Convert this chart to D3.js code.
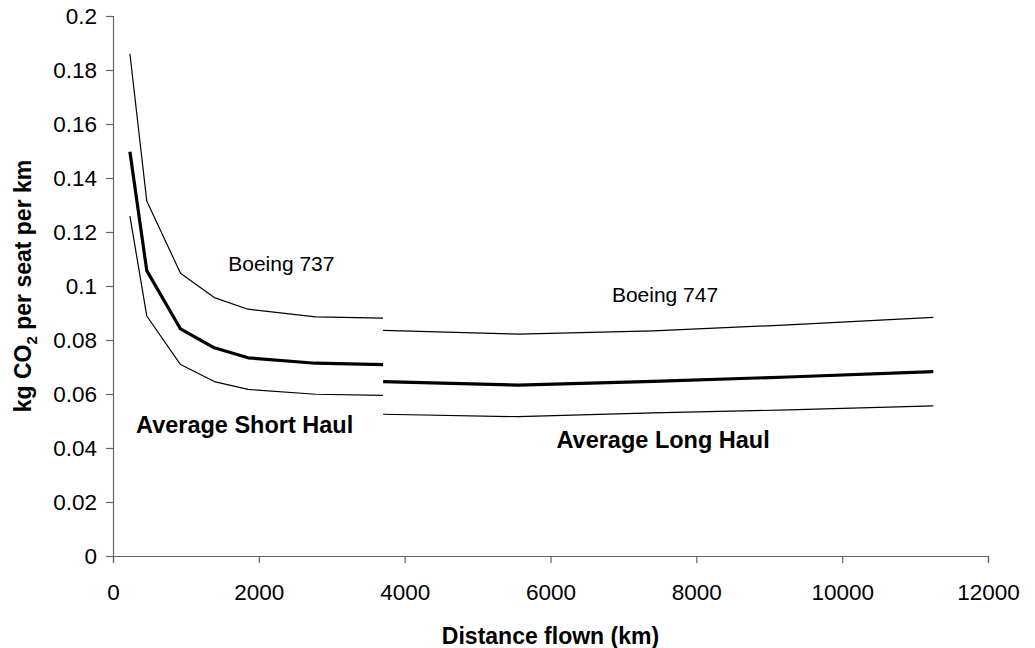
<!DOCTYPE html>
<html>
<head>
<meta charset="utf-8">
<script src="https://cdn.jsdelivr.net/npm/d3@7"></script>
<style>
  body { margin: 0; background: #fff; }
  svg text { font-family: "Liberation Sans", Arial, sans-serif; fill: #000; }
</style>
</head>
<body>
<div id="chart"></div>
<script>
// distances in km (short haul / long haul)
const distance737 = [232, 463, 926, 1389, 1852, 2778, 3704];
const high737 = [0.186, 0.1315, 0.1047, 0.0957, 0.0914, 0.0886, 0.0881];
const avg737 = [0.1497, 0.1057, 0.0841, 0.0771, 0.0734, 0.0714, 0.0709];
const low737 = [0.1259, 0.0889, 0.0709, 0.0646, 0.0617, 0.0599, 0.0595];

const distance747 = [3704, 5556, 7408, 9260, 11250];
const high747 = [0.0836, 0.0822, 0.0834, 0.0856, 0.0884];
const avg747 = [0.0646, 0.0633, 0.0647, 0.0663, 0.0683];
const low747 = [0.0525, 0.0516, 0.0530, 0.0541, 0.0556];

const xTicks = [0, 2000, 4000, 6000, 8000, 10000, 12000];
const yTicks = [0, 0.02, 0.04, 0.06, 0.08, 0.1, 0.12, 0.14, 0.16, 0.18, 0.2];

// chart size and plot area
const width = 1035;
const height = 648;
const margin = {top: 16, right: 47, bottom: 92, left: 113};

const svg = d3.select("#chart")
  .append("svg")
    .attr("width", width)
    .attr("height", height);

const x = d3.scaleLinear()
  .domain([0, 12000])
  .range([margin.left, width - margin.right]);

const y = d3.scaleLinear()
  .domain([0, 0.2])
  .range([height - margin.bottom, margin.top]);

// axes
const xAxis = svg.append("g")
  .attr("transform", `translate(0, ${height - margin.bottom})`)
  .call(d3.axisBottom(x).tickValues(xTicks).tickFormat(d3.format("d")).tickSizeOuter(0).tickSize(7).tickPadding(21));

const yAxis = svg.append("g")
  .attr("transform", `translate(${margin.left}, 0)`)
  .call(d3.axisLeft(y).tickValues(yTicks).tickFormat(d => String(+d.toFixed(2))).tickSizeOuter(0).tickSize(7).tickPadding(9));

[xAxis, yAxis].forEach(g => {
  g.select(".domain").attr("stroke", "#666").attr("stroke-width", 1.2);
  g.selectAll(".tick line").attr("stroke", "#666").attr("stroke-width", 1.2);
  g.selectAll(".tick text")
    .attr("font-size", 22.5)
    .style("font-family", "'Liberation Sans', Arial, sans-serif")
    .attr("fill", "#000");
});

// lines
const series = [
  {xs: distance737, ys: high737, w: 1.2},
  {xs: distance737, ys: avg737, w: 3.2},
  {xs: distance737, ys: low737, w: 1.2},
  {xs: distance747, ys: high747, w: 1.2},
  {xs: distance747, ys: avg747, w: 3.2},
  {xs: distance747, ys: low747, w: 1.2}
];

const line = d3.line()
  .x(d => x(d[0]))
  .y(d => y(d[1]));

svg.selectAll("path.series")
  .data(series)
  .enter()
  .append("path")
    .attr("class", "series")
    .attr("fill", "none")
    .attr("stroke", "#000")
    .attr("stroke-width", d => d.w)
    .attr("stroke-linejoin", "round")
    .attr("d", d => line(d.xs.map((v, i) => [v, d.ys[i]])));

// annotations
svg.append("text")
  .attr("x", x(1580)).attr("y", y(0.1057))
  .attr("font-size", 21)
  .text("Boeing 737");

svg.append("text")
  .attr("x", x(6842)).attr("y", y(0.0942))
  .attr("font-size", 21)
  .text("Boeing 747");

svg.append("text")
  .attr("x", x(316)).attr("y", y(0.0456))
  .attr("font-size", 23.5)
  .attr("font-weight", "bold")
  .text("Average Short Haul");

svg.append("text")
  .attr("x", x(6082)).attr("y", y(0.040))
  .attr("font-size", 23.5)
  .attr("font-weight", "bold")
  .text("Average Long Haul");

// axis titles
svg.append("text")
  .attr("x", (x(0) + x(12000)) / 2)
  .attr("y", 644)
  .attr("text-anchor", "middle")
  .attr("font-size", 23)
  .attr("font-weight", "bold")
  .text("Distance flown (km)");

const yTitle = svg.append("text")
  .attr("transform", `translate(31, ${(y(0) + y(0.2)) / 2}) rotate(-90)`)
  .attr("text-anchor", "middle")
  .attr("font-size", 23)
  .attr("font-weight", "bold");
yTitle.append("tspan").text("kg CO");
yTitle.append("tspan").attr("font-size", 15).attr("dy", 6).text("2");
yTitle.append("tspan").attr("dy", -6).text(" per seat per km");
</script>
</body>
</html>
